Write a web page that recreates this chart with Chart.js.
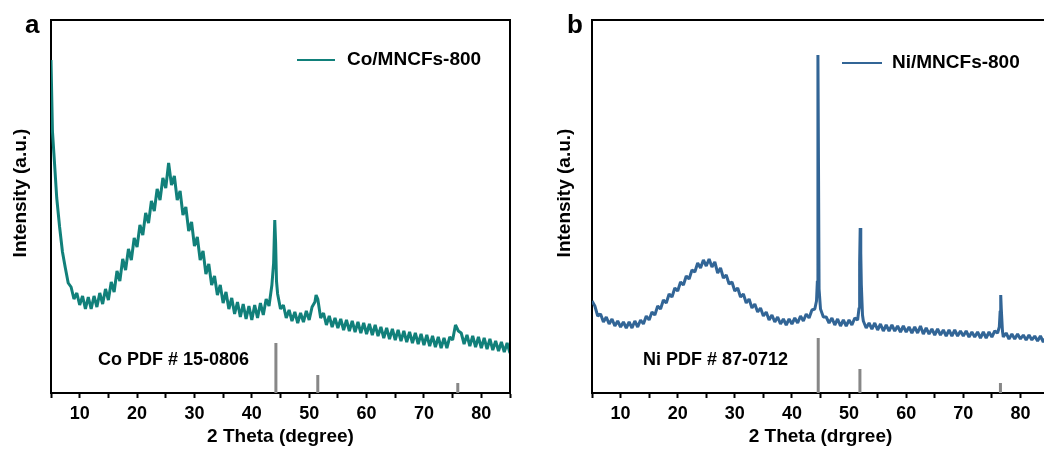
<!DOCTYPE html>
<html><head><meta charset="utf-8">
<script src="https://cdn.jsdelivr.net/npm/chart.js@4/dist/chart.umd.min.js"></script>
<style>
html,body{margin:0;padding:0;width:1044px;height:453px;overflow:hidden;background:#fff;}
#wa{position:absolute;left:0;top:0;width:522px;height:453px;}
#wb{position:absolute;left:522px;top:0;width:540px;height:453px;}
</style></head><body>
<div id="wa"><canvas id="ca" width="522" height="453"></canvas></div>
<div id="wb"><canvas id="cb" width="540" height="453"></canvas></div>
<script>
// ---------- data (a) Co/MNCFs-800 ----------
const twoThetaA = [5,5.25,5.5,6,6.5,7,7.5,8,8.5,9,9.5,10,10.5,11,11.5,12,12.5,13,13.5,14,14.5,15,15.5,16,16.5,17,17.5,18,18.5,19,19.5,20,20.5,21,21.5,22,22.5,23,23.5,24,24.5,25,25.5,26,26.5,27,27.5,28,28.5,29,29.5,30,30.5,31,31.5,32,32.5,33,33.5,34,34.5,35,35.5,36,36.5,37,37.5,38,38.5,39,39.5,40,40.5,41,41.5,42,42.5,43,43.5,43.8,44,44.15,44.3,44.5,45,45.5,46,46.5,47,47.5,48,48.5,49,49.5,50,50.5,51,51.2,51.5,52,52.5,53,53.5,54,54.5,55,55.5,56,56.5,57,57.5,58,58.5,59,59.5,60,60.5,61,61.5,62,62.5,63,63.5,64,64.5,65,65.5,66,66.5,67,67.5,68,68.5,69,69.5,70,70.5,71,71.5,72,72.5,73,73.5,74,74.5,75,75.5,76,76.5,77,77.5,78,78.5,79,79.5,80,80.5,81,81.5,82,82.5,83,83.5,84,84.5,85];
const intensityA = [333,262,240,195,166,141,125,110,106,94,100,88,97,84,96,84,97,86,100,89,104,93,111,101,122,112,134,123,144,133,155,146,168,158,180,170,192,182,204,193,215,205,230,208,217,193,202,178,186,162,171,147,156,133,142,119,129,108,117,98,108,90,101,84,95,79,91,76,89,74,87,73,88,75,90,78,94,87,108,130,173,150,112,99,84,88,75,83,72,81,70,80,71,82,73,86,91,98,94,75,80,68,77,66,75,65,74,63,73,62,72,61,71,60,70,59,69,58,68,57,66,55,65,54,64,53,63,52,62,51,61,50,60,49,59,48,58,47,57,46,56,45,55,45,56,53,68,62,60,49,58,47,57,46,56,45,55,44,54,43,52,42,51,41,50,40];
// ---------- data (b) Ni/MNCFs-800 ----------
const twoThetaB = [5,5.5,6,6.5,7,7.5,8,8.5,9,9.5,10,10.5,11,11.5,12,12.5,13,13.5,14,14.5,15,15.5,16,16.5,17,17.5,18,18.5,19,19.5,20,20.5,21,21.5,22,22.5,23,23.5,24,24.5,25,25.5,26,26.5,27,27.5,28,28.5,29,29.5,30,30.5,31,31.5,32,32.5,33,33.5,34,34.5,35,35.5,36,36.5,37,37.5,38,38.5,39,39.5,40,40.5,41,41.5,42,42.5,43,43.5,44,44.3,44.45,44.55,44.65,44.75,45,45.5,46,46.5,47,47.5,48,48.5,49,49.5,50,50.5,51,51.5,51.75,51.85,51.95,52.05,52.15,52.35,52.5,53,53.5,54,54.5,55,55.5,56,56.5,57,57.5,58,58.5,59,59.5,60,60.5,61,61.5,62,62.5,63,63.5,64,64.5,65,65.5,66,66.5,67,67.5,68,68.5,69,69.5,70,70.5,71,71.5,72,72.5,73,73.5,74,74.5,75,75.5,76,76.3,76.45,76.55,76.65,76.85,77,77.5,78,78.5,79,79.5,80,80.5,81,81.5,82,82.5,83,83.5,84,84.5,85];
const intensityB = [92,87,77,79,71,76,69,74,67,72,66,71,65,71,65,72,66,73,69,77,73,81,78,87,84,93,90,99,96,105,102,111,108,117,114,123,121,130,125,133,127,134,126,131,120,125,115,118,109,111,102,105,96,99,90,94,85,89,81,85,77,81,73,78,71,76,69,74,68,74,69,75,70,77,72,79,75,83,84,92,112,338,226,104,84,76,76,70,75,68,74,67,73,67,73,68,75,73,85,130,165,140,108,78,72,65,70,64,70,63,69,62,68,62,68,62,67,61,67,61,66,60,66,60,67,59,65,59,64,58,64,58,63,57,63,57,63,57,62,57,62,56,61,56,61,55,61,55,61,56,62,60,66,82,98,84,62,56,60,54,59,54,59,54,58,53,58,53,57,52,57,51,56,50];
// ---------- reference patterns (PDF cards) ----------
const pdfCoPos = [44.2, 51.5, 75.9];
const pdfCoInt = [50, 18, 10];
const pdfNiPos = [44.6, 51.9, 76.5];
const pdfNiInt = [55, 24, 10];
// ---------- axis ----------
const xTickLabels = [10,20,30,40,50,60,70,80];

const FONT = '"Liberation Sans", Arial, Helvetica, sans-serif';

const deco = {
  id: 'deco',
  afterDraw(chart, args, o) {
    const {ctx, chartArea: a} = chart;
    ctx.save();
    ctx.strokeStyle = '#000'; ctx.lineWidth = 2;
    ctx.beginPath();
    ctx.moveTo(a.left - 1, a.top); ctx.lineTo(a.right, a.top); ctx.lineTo(a.right, a.bottom);
    ctx.stroke();
    ctx.fillStyle = '#000';
    ctx.textAlign = 'left';
    ctx.textBaseline = 'alphabetic';
    ctx.font = 'bold 26px ' + FONT;
    ctx.fillText(o.letter, o.letterX, 33);
    ctx.strokeStyle = o.color; ctx.lineWidth = 2;
    ctx.beginPath(); ctx.moveTo(o.legX1, o.legY); ctx.lineTo(o.legX2, o.legY); ctx.stroke();
    ctx.textBaseline = 'middle';
    ctx.font = 'bold 19px ' + FONT;
    ctx.fillText(o.legend, o.legTextX, o.legY);
    ctx.font = 'bold 18px ' + FONT;
    ctx.fillText(o.pdf, o.pdfX, 360);
    ctx.translate(o.yTitleX, 193);
    ctx.rotate(-Math.PI / 2);
    ctx.textAlign = 'center';
    ctx.font = 'bold 19px ' + FONT;
    ctx.fillText('Intensity (a.u.)', 0, 0);
    ctx.restore();
  }
};

function sticks(pos, h) {
  const d = [];
  pos.forEach((p, i) => { d.push({x: p, y: 0}, {x: p, y: h[i]}, {x: p, y: null}); });
  return d;
}

function make(id, xs, ys, color, lw, pPos, pInt, cfg) {
  return new Chart(document.getElementById(id), {
    type: 'line',
    data: {
      datasets: [
        { data: xs.map((x, i) => ({x, y: ys[i]})), borderColor: color, borderWidth: lw,
          borderJoinStyle: 'bevel', pointRadius: 0, tension: 0, fill: false, order: 1 },
        { data: sticks(pPos, pInt), borderColor: '#878787', borderWidth: 3,
          pointRadius: 0, spanGaps: false, fill: false, order: 2 }
      ]
    },
    options: {
      responsive: false, animation: false, devicePixelRatio: 1,
      layout: { padding: { top: 20, right: cfg.padRight, left: 0, bottom: 0 } },
      plugins: { legend: { display: false }, tooltip: { enabled: false }, deco: cfg },
      scales: {
        x: {
          type: 'linear', min: 5, max: 85,
          afterFit: s => { s.height = 60; },
          ticks: { stepSize: 5, autoSkip: false, maxRotation: 0, padding: 5, color: '#000',
            font: { family: FONT, size: 18, weight: 'bold' },
            callback: v => xTickLabels.includes(v) ? String(v) : '' },
          grid: { display: true, drawOnChartArea: false, drawTicks: true, tickLength: 5, tickWidth: 2, tickColor: '#000' },
          border: { display: true, color: '#000', width: 2 },
          title: { display: true, text: cfg.xTitle, color: '#000',
            font: { family: FONT, size: 19, weight: 'bold' }, padding: { top: 0, bottom: 5 } }
        },
        y: {
          type: 'linear', min: 0, max: 373,
          afterFit: s => { s.width = cfg.yW; },
          ticks: { display: false },
          grid: { display: false },
          border: { display: true, color: '#000', width: 2 }
        }
      }
    },
    plugins: [deco]
  });
}

make('ca', twoThetaA, intensityA, '#11807a', 3, pdfCoPos, pdfCoInt, {
  yW: 51, padRight: 12, xTitle: '2 Theta (degree)', letter: 'a', letterX: 25,
  color: '#11807a', legX1: 297, legX2: 335, legY: 60, legTextX: 347, legend: 'Co/MNCFs-800',
  pdf: 'Co PDF # 15-0806', pdfX: 98, yTitleX: 21
});
make('cb', twoThetaB, intensityB, '#326596', 3, pdfNiPos, pdfNiInt, {
  yW: 70, padRight: 13, xTitle: '2 Theta (drgree)', letter: 'b', letterX: 45,
  color: '#326596', legX1: 320, legX2: 360, legY: 63, legTextX: 370, legend: 'Ni/MNCFs-800',
  pdf: 'Ni PDF # 87-0712', pdfX: 121, yTitleX: 43
});
</script>
</body></html>
